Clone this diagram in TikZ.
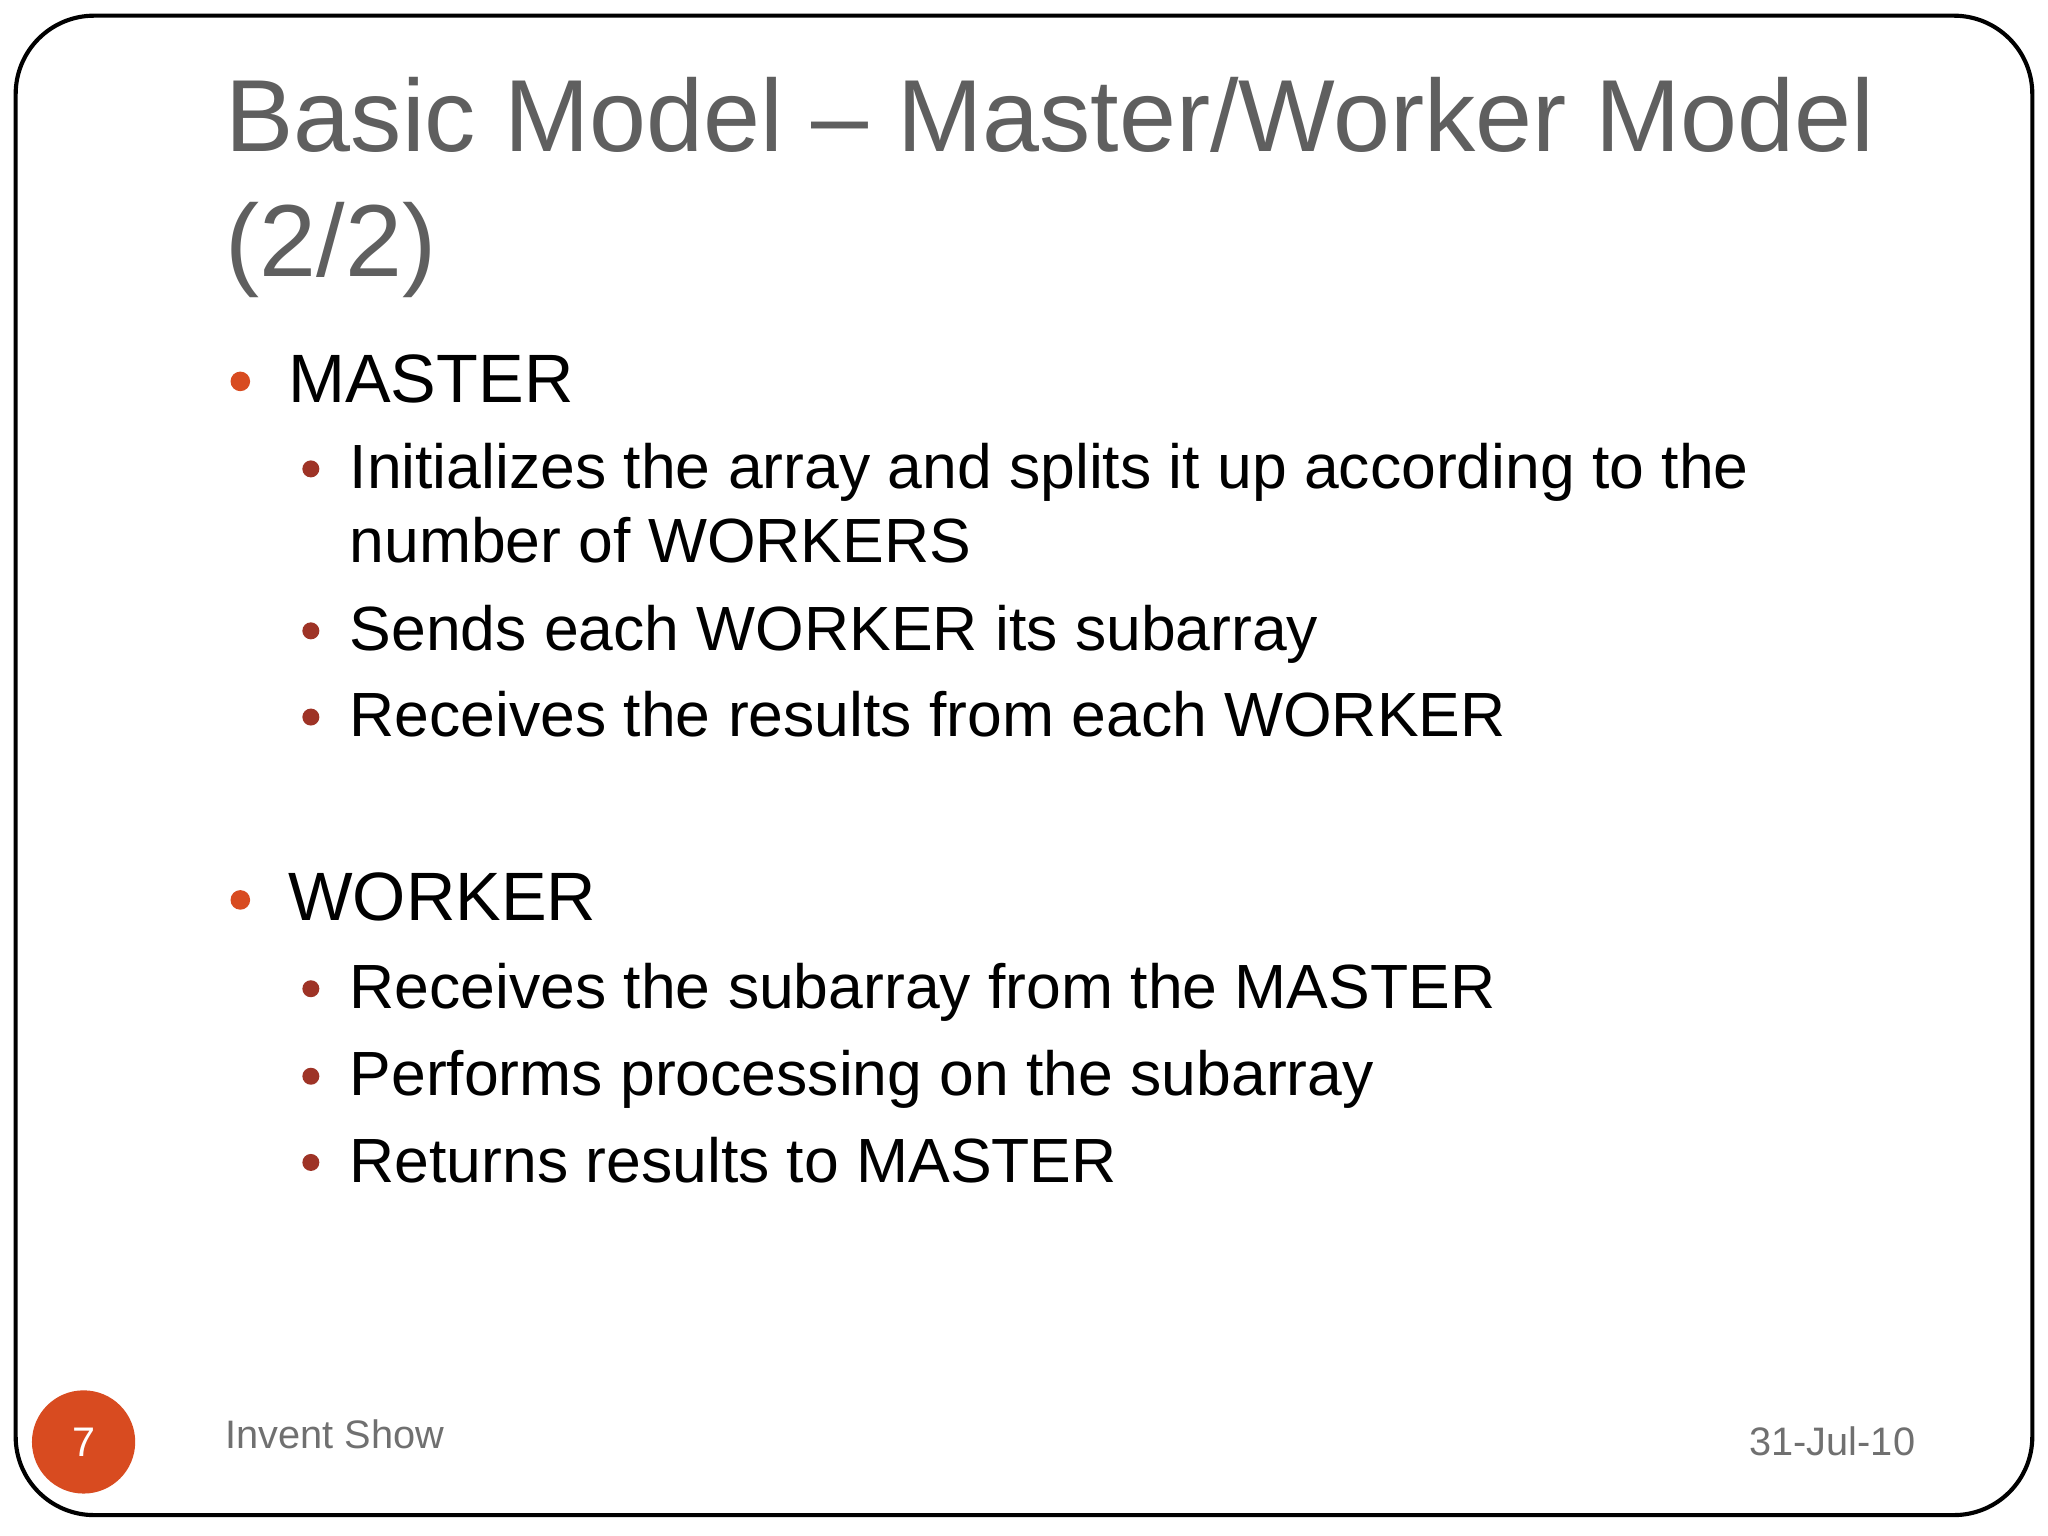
\documentclass[tikz,border=0pt]{standalone}
\usepackage{fontspec}
\setmainfont{Liberation Sans}
\definecolor{titlegray}{HTML}{5F5F5F}
\definecolor{bulA}{HTML}{D84B20}
\definecolor{bulB}{HTML}{9E3326}
\definecolor{footgray}{HTML}{707070}
\tikzset{
  lvA/.style={anchor=base west,inner sep=0pt,font=\fontsize{14.9}{20}\selectfont},
  lvB/.style={anchor=base west,inner sep=0pt,font=\fontsize{13.6}{20}\selectfont,align=left},
  dotA/.style={circle,fill=bulA,inner sep=0pt,minimum size=0.15cm},
  dotB/.style={circle,fill=bulB,inner sep=0pt,minimum size=0.13cm},
}
\begin{document}
\begin{tikzpicture}[x=0.01cm,y=-0.01cm]
\useasboundingbox (0,0) rectangle (1568,1176);
\fill[white] (0,0) rectangle (1568,1176);
\draw[line width=0.9pt,rounded corners=0.6cm] (12,12) rectangle (1556,1160);
\node[anchor=base west,inner sep=0pt,text=titlegray,font=\fontsize{22.3}{26}\selectfont] (t1) at (172,116) {Basic Model -- Master/Worker Model};
\node[anchor=base west,inner sep=0pt,text=titlegray,font=\fontsize{22.3}{26}\selectfont] (t2) at (172,212) {(2/2)};
\node[dotA] (d1) at (184,292) {};
\node[lvA] (m) at (220,308) {MASTER};
\node[dotB] (d2) at (238,359) {};
\node[lvB] (m1) at (267,374) {Initializes the array and splits it up according to the};
\node[lvB] (m1b) at (267,431) {number of WORKERS};
\node[dotB] (d3) at (238,483) {};
\node[lvB] (m2) at (267,498) {Sends each WORKER its subarray};
\node[dotB] (d4) at (238,549) {};
\node[lvB] (m3) at (267,564) {Receives the results from each WORKER};
\node[dotA] (d5) at (184,689) {};
\node[lvA] (w) at (220,705) {WORKER};
\node[dotB] (d6) at (238,757) {};
\node[lvB] (w1) at (267,772) {Receives the subarray from the MASTER};
\node[dotB] (d7) at (238,824) {};
\node[lvB] (w2) at (267,839) {Performs processing on the subarray};
\node[dotB] (d8) at (238,890) {};
\node[lvB] (w3) at (267,905) {Returns results to MASTER};
\node[circle,fill=bulA,minimum size=0.79cm,inner sep=0pt,text=white,font=\fontsize{9}{10}\selectfont] (pg) at (64,1104) {7};
\node[anchor=base west,inner sep=0pt,text=footgray,font=\fontsize{8.65}{10}\selectfont] (f1) at (172,1109) {Invent Show};
\node[anchor=base east,inner sep=0pt,text=footgray,font=\fontsize{8.65}{10}\selectfont] (f2) at (1467,1114) {31-Jul-10};
\end{tikzpicture}
\end{document}
